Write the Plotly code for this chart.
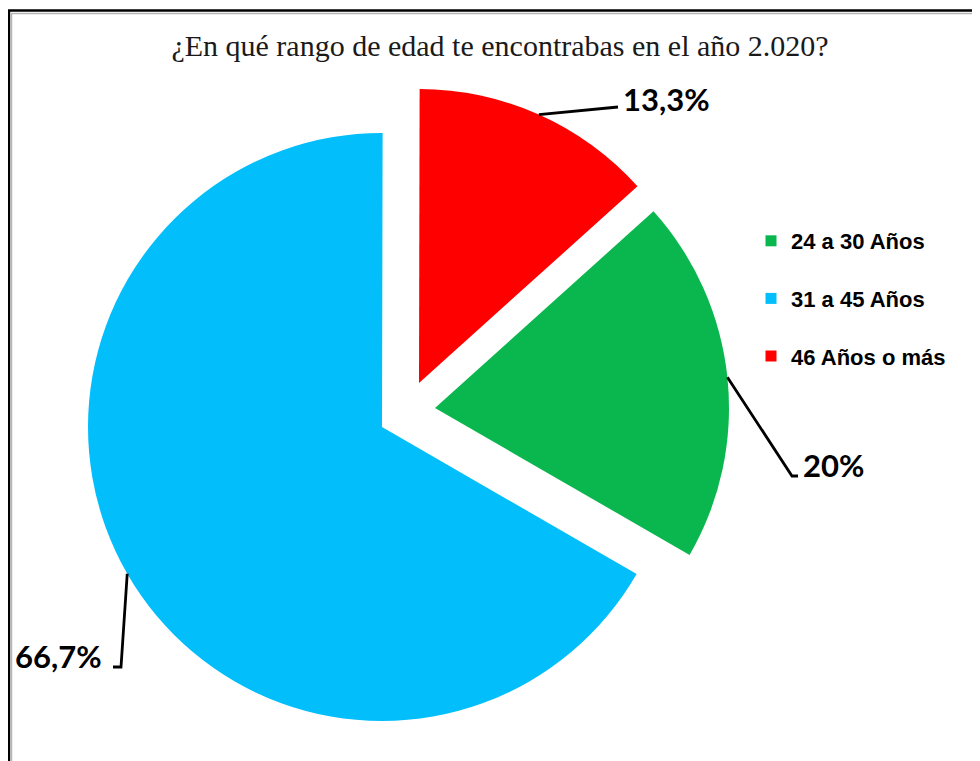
import math
import plotly.graph_objects as go

# ---------------- data ----------------
categories = ["24 a 30 Años", "31 a 45 Años", "46 Años o más"]
percentages = [20.0, 66.7, 13.3]
value_labels = ["20%", "66,7%", "13,3%"]
colors = ["#0AB74F", "#02BEFA", "#FF0000"]
title_text = "¿En qué rango de edad te encontrabas en el año 2.020?"

# ---------------- layout helpers ----------------
PAGE_OFF = 8                       # default body margin of the html page
W, H = 980 - PAGE_OFF, 761 - PAGE_OFF
ROTATION = 48                      # first slice (green) starts 48° clockwise from 12 o'clock
R = 294                            # pie radius in px


def px(x):
    """page x pixel -> paper coordinate"""
    return (x - PAGE_OFF) / W


def py(y):
    """page y pixel -> paper coordinate"""
    return 1 - (y - PAGE_OFF) / H


# pie centres (page px): blue stays, green and red are exploded outwards
centers = [(435, 408), (382, 427), (419, 383)]
# leader line elbows and label anchors (page px)
leader_pts = [[(792, 476), (798, 476)], [(121, 667), (113, 667)], [(618, 107)]]
label_pos = [(801, 465, "left"), (104, 656, "right"), (621, 99, "left")]

fig = go.Figure()
transparent = "rgba(0,0,0,0)"

for i, cat in enumerate(categories):
    cx, cy = centers[i]
    fig.add_trace(go.Pie(
        labels=categories,
        values=percentages,
        sort=False,
        direction="clockwise",
        rotation=ROTATION,
        textinfo="none",
        hoverinfo="label+percent",
        showlegend=False,
        marker=dict(colors=[colors[j] if j == i else transparent for j in range(len(categories))],
                    line=dict(width=0)),
        domain=dict(x=[px(cx - R), px(cx + R)], y=[py(cy + R), py(cy - R)]),
    ))

# leader lines + value labels
total = sum(percentages)
start = ROTATION
shapes = []
annotations = []
for i, v in enumerate(percentages):
    mid = math.radians(start + v / total * 360 / 2)
    start += v / total * 360
    cx, cy = centers[i]
    sx, sy = cx + R * math.sin(mid), cy - R * math.cos(mid)
    path = f"M {px(sx)},{py(sy)}"
    for (ex, ey) in leader_pts[i]:
        path += f" L {px(ex)},{py(ey)}"
    shapes.append(dict(type="path", path=path, xref="paper", yref="paper",
                       line=dict(color="black", width=2.8)))
    lx, ly, anc = label_pos[i]
    annotations.append(dict(x=px(lx), y=py(ly), xref="paper", yref="paper",
                            text=value_labels[i], showarrow=False, xanchor=anc, yanchor="middle",
                            font=dict(family="Lato", size=31, color="black", weight=700)))

# frame (left + top border)
shapes.append(dict(type="path", path=f"M {px(9)},{py(H + 20)} L {px(9)},{py(10.5)} L {px(W + 20)},{py(10.5)}",
                   xref="paper", yref="paper", line=dict(color="black", width=2.5)))
shapes.append(dict(type="path", path=f"M {px(11.5)},{py(H + 20)} L {px(11.5)},{py(13.5)} L {px(W + 20)},{py(13.5)}",
                   xref="paper", yref="paper", line=dict(color="#b5b5b5", width=1.5)))

# legend entries
for i, cat in enumerate(categories):
    fig.add_trace(go.Scatter(x=[None], y=[None], mode="markers", name=cat, legendgroup=cat,
                             marker=dict(symbol="square", size=11, color=colors[i]),
                             hoverinfo="skip", showlegend=True))

fig.update_xaxes(visible=False)
fig.update_yaxes(visible=False)

fig.update_layout(
    width=W, height=H, autosize=False,
    margin=dict(l=0, r=0, t=0, b=0),
    paper_bgcolor="white", plot_bgcolor="white",
    title=dict(text=title_text, x=px(500), xanchor="center", y=py(45), yanchor="middle",
               font=dict(family="Liberation Serif", size=30, color="#1a1a1a")),
    legend=dict(x=px(751), y=py(220), xanchor="left", yanchor="top",
                tracegroupgap=26, bgcolor="rgba(0,0,0,0)",
                font=dict(family="Liberation Sans", size=22, color="black", weight=700)),
    shapes=shapes,
    annotations=annotations,
)

fig.write_html("out.html")
